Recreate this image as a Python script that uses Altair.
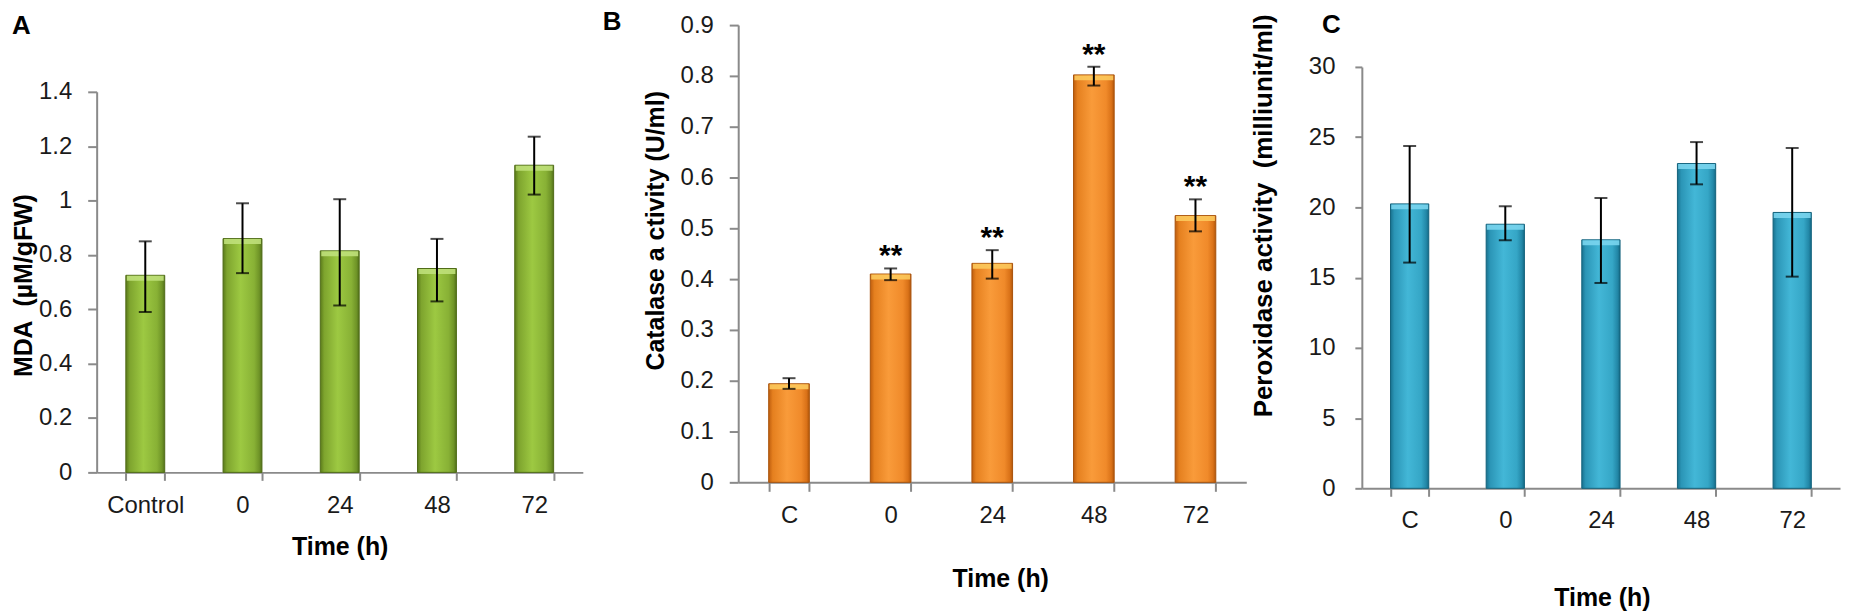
import altair as alt
import pandas as pd

# ---------------- data ----------------
cats_a = ["Control", "0", "24", "48", "72"]
mda = [0.725, 0.86, 0.815, 0.75, 1.13]
mda_lo = [0.59, 0.733, 0.614, 0.629, 1.022]
mda_hi = [0.85, 0.99, 1.005, 0.859, 1.235]
mda_sig = ["", "", "", "", ""]

cats_bc = ["C", "0", "24", "48", "72"]
cat_act = [0.194, 0.41, 0.431, 0.802, 0.525]
cat_lo = [0.184, 0.398, 0.401, 0.781, 0.494]
cat_hi = [0.205, 0.421, 0.457, 0.818, 0.557]
cat_sig = ["", "**", "**", "**", "**"]

pox = [20.25, 18.8, 17.69, 23.12, 19.64]
pox_lo = [16.07, 17.66, 14.62, 21.64, 15.07]
pox_hi = [24.37, 20.08, 20.67, 24.65, 24.23]
pox_sig = ["", "", "", "", ""]

ticks_a = [0, 0.2, 0.4, 0.6, 0.8, 1.0, 1.2, 1.4]
ticks_b = [0, 0.1, 0.2, 0.3, 0.4, 0.5, 0.6, 0.7, 0.8, 0.9]
ticks_c = [0, 5, 10, 15, 20, 25, 30]

FONT = "Liberation Sans"
GRAY = "#8a8a8a"
TXT = "#1a1a1a"
H = 600


def grad(c):
    return alt.Gradient(
        gradient="linear", x1=0, x2=1, y1=0, y2=0,
        stops=[alt.GradientStop(offset=o, color=col) for o, col in c],
    )


GREEN = [(0, "#5a7a1a"), (0.1, "#7ea42e"), (0.45, "#9dc942"), (0.8, "#88b135"), (0.93, "#6f9427"), (1, "#52701a")]
ORANGE = [(0, "#bf5e0e"), (0.1, "#e5801f"), (0.45, "#f99b3a"), (0.8, "#f08a2a"), (0.93, "#da7218"), (1, "#b3570b")]
BLUE = [(0, "#19728f"), (0.1, "#2b95b6"), (0.45, "#43b7d7"), (0.8, "#35a6c6"), (0.93, "#2388a8"), (1, "#156a86")]


def panel(cats, vals, lo, hi, sig, ymax, yvals, pw, xr, yr, stops, cap_col, edge,
          ytitle, ytsize, letter, letter_dx, letter_offset, ytx, yty, xtx, xty,
          ytick, xtick, ylabpad, xlabpad, barw):
    df = pd.DataFrame({"cat": cats, "v": vals, "lo": lo, "hi": hi, "sig": sig})
    xscale = alt.Scale(domain=cats, range=xr, paddingInner=0.6, paddingOuter=0.3)
    xaxis = alt.Axis(
        title="Time (h)", labelAngle=0, tickBand="extent", grid=False, offset=yr[0] - H,
        domainColor=GRAY, domainWidth=2, tickColor=GRAY, tickWidth=2, tickSize=xtick,
        labelFont=FONT, labelFontSize=24, labelColor=TXT, labelPadding=xlabpad,
        labelBaseline="top", labelOverlap=False,
        titleFont=FONT, titleFontSize=25, titleFontWeight="bold", titleColor="black",
        titleX=xtx, titleY=xty, titleBaseline="middle", titleAlign="center",
    )
    yscale = alt.Scale(domain=[0, ymax], range=yr, nice=False, zero=True)
    yaxis = alt.Axis(
        title=ytitle, values=yvals, format="~g", grid=False, offset=-xr[0],
        domainColor=GRAY, domainWidth=2, tickColor=GRAY, tickWidth=2, tickSize=ytick,
        labelFont=FONT, labelFontSize=24, labelColor=TXT, labelPadding=ylabpad,
        labelFlush=False,
        titleFont=FONT, titleFontSize=ytsize, titleFontWeight="bold", titleColor="black",
        titleAngle=270, titleX=ytx, titleY=yty, titleBaseline="middle", titleAlign="center",
    )

    def X():
        return alt.X("cat:N", scale=xscale, axis=xaxis, sort=None)

    def Y(f):
        return alt.Y(f"{f}:Q", scale=yscale, axis=yaxis)

    base = alt.Chart(df)
    bars = base.mark_bar(color=grad(stops), stroke=edge, strokeWidth=1).encode(x=X(), y=Y("v"))
    cap = base.mark_tick(color=cap_col, thickness=5, size=barw - 2, yOffset=3, opacity=0.9).encode(x=X(), y=Y("v"))
    err = base.mark_rule(color="black", strokeWidth=2).encode(x=X(), y=Y("lo"), y2="hi:Q")
    tlo = base.mark_tick(color="black", thickness=2, size=13).encode(x=X(), y=Y("lo"))
    thi = base.mark_tick(color="black", thickness=2, size=13).encode(x=X(), y=Y("hi"))
    stars = base.mark_text(font=FONT, fontSize=30, fontWeight="bold", color="black",
                           baseline="alphabetic", dy=-3).encode(x=X(), y=Y("hi"), text="sig:N")
    return alt.layer(bars, cap, err, tlo, thi, stars).properties(
        width=pw, height=H,
        title=alt.TitleParams(text=letter, anchor="start", frame="group", font=FONT,
                              fontSize=26, fontWeight="bold", color="black",
                              dx=letter_dx, offset=letter_offset),
    )


# panel origins on the page: A at x=8, B at x=600, C at x=1255 (all at y=8)
pa = panel(cats_a, mda, mda_lo, mda_hi, mda_sig, 1.4, ticks_a, 592, [89, 577], [462, 80],
           GREEN, "#bfe07a", "#4f6b17",
           "MDA\u00a0 (\u00b5M/gFW)", 25, "A", 4, -27, -73, 274, 333, 74, 9, 8, 16, 13, 39)
pb = panel(cats_bc, cat_act, cat_lo, cat_hi, cat_sig, 0.9, ticks_b, 655, [141, 651], [472, 13],
           ORANGE, "#fcc95c", "#a9520b",
           "Catalase a ctivity (U/ml)", 25, "B", 5, -23, -83, 219, 404, 97, 9, 9, 16, 12, 41)
pc = panel(cats_bc, pox, pox_lo, pox_hi, pox_sig, 30, ticks_c, 595, [112, 592], [478, 55],
           BLUE, "#7ad5ee", "#13627c",
           "Peroxidase activity\u00a0 (milliunit/ml)", 26, "C", 72, -26, -99, 204, 353, 110, 7, 8, 20, 12, 39)

chart = alt.hconcat(pa, pb, pc, spacing=0, bounds="flush").properties(
    padding=0, background="white"
).configure_view(stroke=None)

chart.save("out.html", embed_options={"renderer": "svg", "actions": False})
